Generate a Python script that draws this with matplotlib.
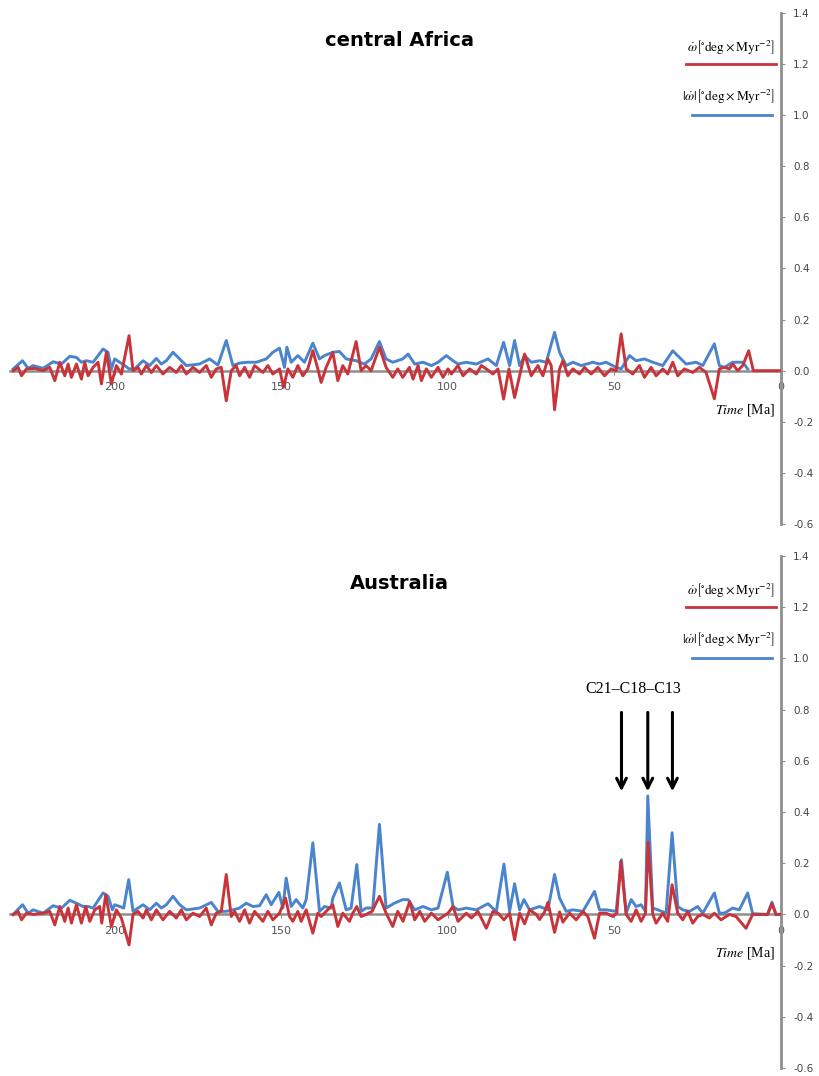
import matplotlib
matplotlib.use("Agg")
import matplotlib.pyplot as plt
from matplotlib.ticker import FixedLocator, FormatStrFormatter

plt.rcParams['mathtext.fontset'] = 'stix'

########################################################################################
# Data: time [Ma] and omega-dot values
########################################################################################

africa_blue_t = [230.5, 227.7, 226.0, 224.5, 221.5, 218.5, 216.0, 213.5, 211.5, 210.0, 208.5, 206.5,
                 203.5, 202.0, 201.0, 200.0, 198.5, 197.0, 195.7, 194.0, 191.5, 189.5, 187.5, 186.0,
                 184.5, 182.5, 180.5, 178.5, 174.5, 171.5, 169.0, 166.5, 164.5, 162.5, 160.0, 157.5,
                 154.5, 152.5, 150.5, 149.0, 148.3, 147.0, 145.0, 143.0, 140.5, 138.5, 137.0, 134.5,
                 132.5, 130.5, 127.5, 125.0, 123.0, 120.5, 118.5, 116.5, 113.5, 111.9, 109.9, 107.4,
                 104.9, 102.9, 100.4, 98.4, 96.9, 94.4, 91.4, 87.9, 85.4, 83.2, 81.4, 79.9,
                 78.4, 76.9, 74.9, 72.4, 70.4, 67.9, 66.4, 64.4, 62.4, 59.9, 56.4, 54.4,
                 52.4, 49.4, 47.9, 45.4, 43.4, 40.9, 38.4, 35.4, 32.4, 30.4, 28.4, 25.4,
                 23.4, 19.9, 18.4, 16.9, 14.4, 11.4, 9.9]
africa_blue_v = [0.007, 0.039, 0.009, 0.020, 0.009, 0.035, 0.026, 0.056, 0.052, 0.033, 0.039, 0.033,
                 0.085, 0.072, 0.007, 0.046, 0.033, 0.020, 0.007, 0.007, 0.039, 0.020, 0.048, 0.026,
                 0.039, 0.072, 0.046, 0.020, 0.026, 0.046, 0.022, 0.118, 0.020, 0.030, 0.033, 0.033,
                 0.046, 0.072, 0.088, 0.013, 0.092, 0.033, 0.059, 0.033, 0.108, 0.046, 0.059, 0.072,
                 0.075, 0.046, 0.039, 0.026, 0.046, 0.114, 0.046, 0.033, 0.046, 0.065, 0.026, 0.033,
                 0.020, 0.033, 0.059, 0.039, 0.026, 0.033, 0.026, 0.046, 0.020, 0.111, 0.020, 0.118,
                 0.020, 0.059, 0.033, 0.039, 0.033, 0.150, 0.072, 0.020, 0.033, 0.020, 0.033, 0.026,
                 0.033, 0.013, 0.007, 0.059, 0.039, 0.046, 0.033, 0.020, 0.078, 0.052, 0.026, 0.033,
                 0.020, 0.105, 0.020, 0.013, 0.033, 0.033, 0.007]

africa_red_t = [230.5, 229.0, 228.0, 226.5, 224.0, 221.5, 219.5, 218.0, 216.5, 215.0, 214.0, 213.0,
                211.5, 210.0, 209.0, 208.0, 206.5, 205.0, 204.0, 202.5, 201.0, 199.5, 198.0, 195.7,
                194.5, 193.0, 192.0, 190.5, 189.0, 187.5, 185.5, 183.5, 181.5, 180.0, 178.5, 176.5,
                174.5, 172.5, 171.0, 169.5, 168.0, 166.5, 165.0, 163.5, 162.5, 161.0, 159.5, 158.0,
                155.5, 154.0, 152.5, 150.5, 149.3, 148.0, 146.5, 145.0, 143.5, 142.0, 140.5, 139.0,
                138.0, 136.5, 134.5, 133.0, 131.5, 130.0, 127.5, 126.0, 124.5, 123.0, 120.5, 118.5,
                116.5, 115.0, 113.5, 111.5, 110.4, 108.9, 107.9, 106.4, 104.9, 102.9, 101.4, 99.9,
                98.9, 96.9, 95.4, 93.4, 91.4, 89.9, 88.4, 86.4, 84.9, 83.2, 81.6, 79.9,
                78.4, 76.9, 74.9, 72.9, 71.4, 69.9, 68.9, 67.9, 66.4, 65.4, 63.9, 62.4,
                60.4, 58.9, 56.9, 54.9, 52.9, 50.9, 49.4, 47.9, 46.4, 44.4, 42.4, 40.9,
                38.9, 37.4, 35.4, 33.9, 32.4, 30.9, 28.9, 26.4, 24.4, 22.4, 19.9, 18.4,
                16.9, 15.4, 14.4, 12.9, 11.4, 9.6, 8.2, 0.0]
africa_red_v = [0.000, 0.013, -0.020, 0.007, 0.009, 0.000, 0.013, -0.039, 0.033, -0.020, 0.026, -0.026,
                0.026, -0.033, 0.033, -0.020, 0.013, 0.033, -0.052, 0.072, -0.052, 0.020, -0.013, 0.137,
                0.000, 0.013, -0.013, 0.020, -0.007, 0.020, -0.013, 0.013, -0.007, 0.020, -0.013, 0.013,
                -0.007, 0.020, -0.026, 0.007, 0.013, -0.118, 0.000, 0.020, -0.020, 0.013, -0.026, 0.020,
                -0.007, 0.020, -0.013, 0.007, -0.065, 0.007, -0.026, 0.020, -0.020, 0.007, 0.078, 0.007,
                -0.046, 0.013, 0.072, -0.039, 0.020, -0.013, 0.114, 0.000, 0.020, 0.000, 0.092, 0.013,
                -0.026, 0.007, -0.026, 0.013, -0.033, 0.020, -0.039, 0.007, -0.026, 0.013, -0.026, 0.007,
                -0.013, 0.020, -0.020, 0.007, -0.013, 0.020, 0.007, -0.013, 0.007, -0.111, 0.007, -0.105,
                -0.020, 0.065, -0.020, 0.020, -0.020, 0.046, 0.020, -0.153, 0.007, 0.039, -0.020, 0.007,
                -0.013, 0.013, -0.013, 0.013, -0.020, 0.007, 0.000, 0.144, 0.007, -0.013, 0.020, -0.026,
                0.013, -0.020, 0.007, -0.013, 0.033, -0.020, 0.007, -0.007, 0.013, -0.007, -0.110, 0.007,
                0.013, 0.007, 0.026, 0.000, 0.020, 0.078, 0.000, 0.000]

australia_blue_t = [230.5, 227.7, 226.0, 224.5, 221.5, 218.5, 216.0, 213.5, 211.5, 209.5, 208.0, 206.5,
                    203.5, 202.0, 200.7, 200.0, 198.5, 197.3, 195.8, 194.5, 191.5, 189.5, 187.5, 186.0,
                    184.5, 182.5, 180.5, 178.5, 174.5, 171.0, 169.0, 166.5, 164.5, 162.5, 160.5, 158.5,
                    156.5, 154.5, 153.0, 150.7, 149.5, 148.5, 147.0, 145.5, 143.5, 142.5, 140.5, 138.5,
                    137.0, 135.0, 134.5, 132.5, 130.5, 129.0, 127.3, 126.0, 124.5, 122.5, 120.5, 118.5,
                    116.0, 113.5, 111.9, 109.9, 107.4, 104.9, 102.9, 100.1, 98.4, 96.9, 94.4, 91.4,
                    87.9, 85.4, 83.1, 81.4, 79.9, 78.4, 77.1, 75.4, 72.4, 69.9, 67.9, 66.4,
                    64.4, 62.4, 59.4, 55.9, 54.4, 52.4, 49.4, 47.8, 46.4, 44.9, 43.4, 41.9,
                    40.6, 39.9, 38.4, 36.9, 34.4, 32.6, 30.9, 29.4, 27.4, 24.9, 23.4, 19.9,
                    18.4, 16.9, 14.4, 12.4, 9.9, 8.4, 4.0, 2.6, 1.4]
australia_blue_v = [0.000, 0.038, 0.005, 0.018, 0.005, 0.034, 0.025, 0.055, 0.044, 0.031, 0.031, 0.025,
                    0.084, 0.071, 0.018, 0.038, 0.031, 0.025, 0.136, 0.012, 0.038, 0.018, 0.044, 0.025,
                    0.038, 0.071, 0.038, 0.018, 0.025, 0.047, 0.012, 0.012, 0.018, 0.025, 0.044, 0.031,
                    0.034, 0.077, 0.038, 0.086, 0.025, 0.142, 0.031, 0.058, 0.025, 0.058, 0.280, 0.012,
                    0.031, 0.025, 0.064, 0.123, 0.018, 0.025, 0.195, 0.012, 0.025, 0.025, 0.352, 0.025,
                    0.044, 0.058, 0.058, 0.018, 0.031, 0.018, 0.025, 0.165, 0.031, 0.018, 0.025, 0.018,
                    0.042, 0.012, 0.197, 0.012, 0.120, 0.018, 0.058, 0.018, 0.031, 0.018, 0.156, 0.064,
                    0.012, 0.018, 0.012, 0.090, 0.018, 0.018, 0.012, 0.214, 0.005, 0.058, 0.031, 0.038,
                    0.012, 0.463, 0.025, 0.018, 0.005, 0.319, 0.031, 0.018, 0.012, 0.031, 0.005, 0.084,
                    0.005, 0.005, 0.025, 0.018, 0.084, 0.003, 0.000, 0.048, 0.000]

australia_red_t = [230.5, 229.0, 228.0, 226.5, 224.5, 221.5, 219.5, 218.0, 216.5, 215.0, 214.0, 213.0,
                   211.5, 210.0, 208.7, 207.5, 206.0, 204.5, 203.9, 202.7, 201.0, 199.5, 198.0, 195.7,
                   194.5, 193.0, 191.5, 190.5, 189.0, 187.5, 185.5, 183.5, 181.5, 180.0, 178.5, 176.5,
                   174.5, 172.5, 171.0, 169.5, 168.0, 166.5, 165.0, 164.0, 162.5, 161.0, 159.5, 158.0,
                   155.5, 154.0, 152.5, 150.5, 148.7, 147.5, 146.5, 145.0, 144.0, 142.5, 140.5, 139.0,
                   138.0, 136.5, 134.5, 133.0, 131.5, 129.5, 128.5, 127.3, 126.0, 124.5, 122.7, 120.5,
                   118.5, 116.5, 115.0, 113.4, 111.4, 109.9, 108.4, 106.9, 104.9, 102.9, 101.4, 99.9,
                   98.4, 96.9, 94.4, 92.9, 90.9, 88.4, 86.4, 84.9, 83.1, 81.4, 79.9, 78.4,
                   76.9, 75.4, 73.4, 72.4, 70.9, 69.9, 67.9, 66.4, 65.4, 63.4, 61.4, 59.4,
                   57.9, 55.9, 54.4, 52.4, 50.4, 49.2, 48.0, 46.4, 44.9, 43.4, 41.9, 40.6,
                   39.8, 38.4, 37.4, 35.4, 33.9, 32.6, 30.9, 29.4, 27.9, 26.4, 24.9, 23.4,
                   21.4, 19.9, 17.9, 15.4, 13.4, 10.4, 8.4, 3.9, 2.6, 1.4, 0.0]
australia_red_v = [0.000, 0.012, -0.021, 0.005, 0.000, 0.005, 0.012, -0.041, 0.031, -0.027, 0.025, -0.034,
                   0.038, -0.034, 0.031, -0.027, 0.018, 0.031, -0.034, 0.077, -0.047, 0.018, -0.014, -0.119,
                   0.000, 0.012, -0.014, 0.018, -0.021, 0.018, -0.021, 0.012, -0.014, 0.018, -0.021, 0.005,
                   -0.008, 0.025, -0.041, 0.005, 0.012, 0.156, -0.008, 0.012, -0.027, 0.018, -0.034, 0.012,
                   -0.027, 0.012, -0.021, 0.005, 0.064, -0.008, -0.027, 0.012, -0.027, 0.018, -0.073, 0.005,
                   -0.008, 0.012, 0.038, -0.047, 0.005, -0.027, 0.005, 0.031, -0.008, 0.000, 0.012, 0.071,
                   0.005, -0.047, 0.012, -0.027, 0.051, -0.021, 0.012, -0.027, 0.005, -0.021, -0.008, 0.005,
                   0.031, -0.027, 0.005, -0.014, 0.012, -0.054, 0.012, 0.005, -0.021, 0.005, -0.099, 0.005,
                   -0.037, 0.018, 0.000, -0.020, 0.010, 0.047, -0.070, 0.010, -0.030, 0.005, -0.021, 0.012,
                   -0.008, -0.093, 0.005, 0.005, -0.008, 0.005, 0.208, 0.000, -0.027, 0.018, -0.027, 0.005,
                   0.282, 0.000, -0.034, 0.005, -0.027, 0.116, 0.005, -0.021, 0.012, -0.034, -0.008, 0.000,
                   -0.014, 0.005, -0.021, 0.000, -0.008, -0.054, 0.000, 0.000, 0.042, 0.000, 0.000]

# chron arrows in the Australia panel
chron_label = "C21\u2013C18\u2013C13"
chron_times = [47.8, 39.9, 32.5]

x_ticks = [200, 150, 100, 50, 0]
y_ticks = [-0.6, -0.4, -0.2, 0.0, 0.2, 0.4, 0.6, 0.8, 1.0, 1.2, 1.4]

RED = '#C8343A'
BLUE = '#4A84CC'
GREY = '#8E8E8E'

label_red = r'$\dot{\omega}\left[^{\circ}\mathrm{deg}\times\mathrm{Myr}^{-2}\right]$'
label_blue = r'$|\dot{\omega}|\left[^{\circ}\mathrm{deg}\times\mathrm{Myr}^{-2}\right]$'

########################################################################################
# Panel drawing
########################################################################################

def draw_panel(ax, title, bt, bv, rt, rv):
    ax.plot(bt, bv, color=BLUE, lw=2.1, zorder=3, solid_joinstyle='round')
    ax.plot(rt, rv, color=RED, lw=2.1, zorder=4, solid_joinstyle='round')
    ax.set_xlim(231.5, 0.0)
    ax.set_ylim(-0.6, 1.4)
    # spines: y axis on the right (t=0), x axis through zero
    ax.spines['left'].set_visible(False)
    ax.spines['top'].set_visible(False)
    ax.spines['right'].set_color(GREY)
    ax.spines['right'].set_linewidth(2.0)
    ax.spines['bottom'].set_position(('data', 0.0))
    ax.spines['bottom'].set_color(GREY)
    ax.spines['bottom'].set_linewidth(1.8)
    ax.spines['bottom'].set_zorder(2)
    ax.yaxis.set_ticks_position('right')
    ax.yaxis.set_major_locator(FixedLocator(y_ticks))
    ax.yaxis.set_major_formatter(FormatStrFormatter('%.1f'))
    ax.xaxis.set_major_locator(FixedLocator(x_ticks))
    ax.tick_params(axis='y', direction='out', length=3, color=GREY, labelsize=7.5,
                   labelcolor='#444444', pad=6)
    ax.tick_params(axis='x', direction='out', length=3, color=GREY, labelsize=8,
                   labelcolor='#555555', pad=5)
    ax.patch.set_visible(False)
    # title
    ax.text(0.506, 0.947, title, transform=ax.transAxes, ha='center', va='center',
            fontsize=14, fontweight='heavy', family='DejaVu Sans')
    # legend made of short lines with labels above
    ax.plot([28.5, 1.5], [1.2, 1.2], color=RED, lw=2.0, clip_on=False)
    ax.plot([26.7, 2.7], [1.0, 1.0], color=BLUE, lw=2.0, clip_on=False)
    ax.text(1.8, 1.262, label_red, ha='right', va='center', fontsize=9.5)
    ax.text(1.8, 1.072, label_blue, ha='right', va='center', fontsize=9.5)
    # axis label
    ax.text(1.8, -0.152, r'$\mathit{Time}$ [Ma]', ha='right', va='center', fontsize=10,
            family='Liberation Serif')


fig = plt.figure(figsize=(8.2, 10.76), dpi=100)
ax1 = fig.add_axes([0.012, 0.513, 0.940, 0.475])
ax2 = fig.add_axes([0.012, 0.0074, 0.940, 0.4758])

draw_panel(ax1, 'central Africa', africa_blue_t, africa_blue_v, africa_red_t, africa_red_v)
draw_panel(ax2, 'Australia', australia_blue_t, australia_blue_v, australia_red_t, australia_red_v)

# Chron arrows
for t in chron_times:
    ax2.annotate('', xy=(t, 0.47), xytext=(t, 0.80),
                 arrowprops=dict(arrowstyle='->,head_width=0.35,head_length=0.7',
                                 lw=2.2, color='black'), zorder=5)
ax2.text(44.2, 0.88, chron_label, ha='center', va='center', fontsize=11.5,
         family='Liberation Serif')

fig.savefig('out.png', dpi=100)
